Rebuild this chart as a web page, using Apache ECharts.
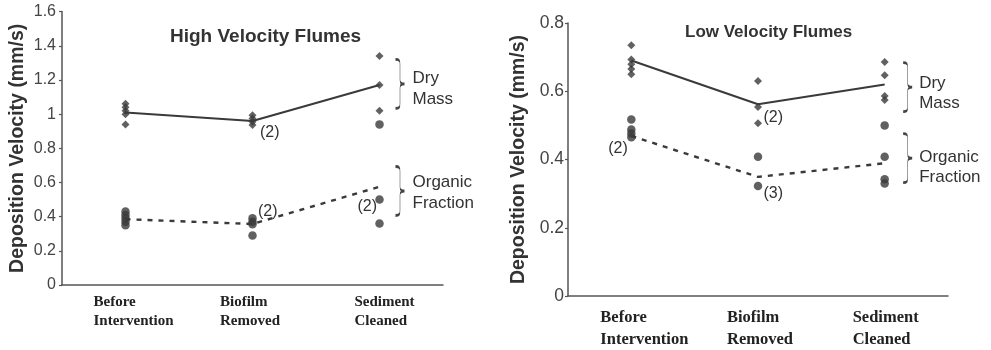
<!DOCTYPE html>
<html><head><meta charset="utf-8">
<script src="https://cdn.jsdelivr.net/npm/echarts@6/dist/echarts.min.js"></script>
<style>html,body{margin:0;padding:0;background:#fff}#c{width:991px;height:350px}</style>
</head><body><div id="c"></div>
<script>
// ---- data ----
const categories = ['Before Intervention', 'Biofilm Removed', 'Sediment Cleaned'];
const highTitle = 'High Velocity Flumes';
const lowTitle = 'Low Velocity Flumes';
const yName = 'Deposition Velocity (mm/s)';
const highYMax = 1.6, highYStep = 0.2;
const lowYMax = 0.8, lowYStep = 0.2;

// individual flume values, per category
const highDryMass = [[1.06, 1.04, 1.02, 1.00, 0.94], [0.994, 0.975, 0.955, 0.936], [1.34, 1.17, 1.02]];
const highOrganic = [[0.43, 0.41, 0.39, 0.37, 0.35], [0.39, 0.37, 0.355, 0.29], [0.94, 0.50, 0.36]];
const highDryMean = [1.01, 0.96, 1.17];
const highOrganicMean = [0.385, 0.357, 0.575];

const lowDryMass = [[0.735, 0.693, 0.679, 0.665, 0.650], [0.63, 0.554, 0.506], [0.686, 0.647, 0.586, 0.574]];
const lowOrganic = [[0.517, 0.488, 0.476, 0.465], [0.408, 0.322], [0.50, 0.408, 0.342, 0.33]];
const lowDryMean = [0.69, 0.562, 0.62];
const lowOrganicMean = [0.469, 0.349, 0.389];

// replicate-count notes: [category index, value anchor, text]
const highNotes = [[1, 0.936, '(2)'], [1, 0.39, '(2)'], [2, 0.50, '(2)']];
const lowNotes = [[0, 0.465, '(2)'], [1, 0.554, '(2)'], [1, 0.322, '(3)']];
// group brackets: [category index, centre value, text]
const highGroups = [[2, 1.177, 'Dry\nMass'], [2, 0.55, 'Organic\nFraction']];
const lowGroups = [[2, 0.612, 'Dry\nMass'], [2, 0.404, 'Organic\nFraction']];

// ---- chart ----
const INK = '#3a3a3a';
const SANS = 'Liberation Sans';
const SERIF = 'Liberation Serif';
const bracePath = 'path://M0,0 C6,0 6,4 6,10 L6,42 C6,48 8,50 12,50 C8,50 6,52 6,58 L6,90 C6,96 6,100 0,100';

function pts(groups) {
  const out = [];
  groups.forEach((g, i) => g.forEach(v => out.push([i, v])));
  return out;
}

function noteItems(notes, layout) {
  return notes.map((n, i) => ({
    coord: [n[0], n[1]],
    symbol: 'circle', symbolSize: 1,
    itemStyle: { color: 'rgba(0,0,0,0)' },
    label: {
      show: true, formatter: n[2], position: layout[i].pos, distance: 0, offset: layout[i].off,
      fontFamily: SANS, fontSize: 16, color: '#333'
    }
  }));
}

function groupItems(groups, braceOff, textOff, textDy, lineH) {
  const items = [];
  groups.forEach((g, i) => {
    items.push({
      coord: [g[0], g[1]],
      symbol: bracePath, symbolSize: [9, 49], symbolOffset: [braceOff, 0],
      itemStyle: { color: 'rgba(0,0,0,0)', borderColor: '#444', borderWidth: 1.2 },
      label: { show: false }
    });
    items.push({
      coord: [g[0], g[1]],
      symbol: 'circle', symbolSize: 1,
      itemStyle: { color: 'rgba(0,0,0,0)' },
      label: {
        show: true, formatter: g[2], position: 'right', distance: 0, offset: [textOff, textDy[i]],
        align: 'left', fontFamily: SANS, fontSize: 17, lineHeight: lineH, color: '#333'
      }
    });
  });
  return items;
}

function catAxis(gridIndex, fontSize, lineH, margin, widths) {
  const st = w => ({ width: w, align: 'left', fontFamily: SERIF, fontWeight: 'bold', fontSize, lineHeight: lineH, color: '#222' });
  return {
    gridIndex, type: 'category', data: categories, boundaryGap: true,
    axisLine: { show: true, lineStyle: { color: '#555', width: 1.5 } },
    axisTick: { show: false },
    axisLabel: {
      margin, align: 'center', interval: 0,
      formatter: (v, idx) => v.split(' ').map(w => '{c' + idx + '|' + w + '}').join('\n'),
      rich: { c0: st(widths[0]), c1: st(widths[1]), c2: st(widths[2]) }
    },
    splitLine: { show: false }
  };
}

function valAxis(gridIndex, max, step, fontSize, nameGap, margin) {
  return {
    gridIndex, type: 'value', min: 0, max, interval: step,
    name: yName, nameLocation: 'middle', nameGap,
    nameTextStyle: { fontFamily: SANS, fontWeight: 'bold', fontSize: 19.5, color: '#333' },
    axisLine: { show: true, lineStyle: { color: '#555', width: 1.5 } },
    axisTick: { show: true, length: 3, lineStyle: { color: '#555', width: 1.2 } },
    axisLabel: { fontFamily: SANS, fontSize, color: '#444', margin },
    splitLine: { show: false }
  };
}

function seriesFor(idx, dry, org, dryMean, orgMean, marks) {
  return [
    {
      type: 'line', xAxisIndex: idx, yAxisIndex: idx, data: dryMean, symbol: 'none',
      lineStyle: { color: INK, width: 2 }, z: 2, silent: true,
      markPoint: { data: marks, silent: true, animation: false }
    },
    {
      type: 'line', xAxisIndex: idx, yAxisIndex: idx, data: orgMean, symbol: 'none',
      lineStyle: { color: INK, width: 2.4, type: [5, 6] }, z: 2, silent: true
    },
    {
      type: 'scatter', xAxisIndex: idx, yAxisIndex: idx, data: pts(dry), symbol: 'diamond',
      symbolSize: 8, itemStyle: { color: INK }, z: 3
    },
    {
      type: 'scatter', xAxisIndex: idx, yAxisIndex: idx, data: pts(org), symbol: 'circle',
      symbolSize: 8.5, itemStyle: { color: INK }, z: 3
    }
  ];
}

const highNoteLayout = [
  { pos: 'right', off: [7, 8] },
  { pos: 'right', off: [5, -7] },
  { pos: 'left', off: [-2, 7] }
];
const lowNoteLayout = [
  { pos: 'left', off: [-3, 11] },
  { pos: 'right', off: [5, 11] },
  { pos: 'right', off: [5, 7] }
];

const highMarks = noteItems(highNotes, highNoteLayout)
  .concat(groupItems(highGroups, 20.5, 32.5, [5, 2], 21));
const lowMarks = noteItems(lowNotes, lowNoteLayout)
  .concat(groupItems(lowGroups, 23, 34, [6, 9], 20));

const chart = echarts.init(document.getElementById('c'), null, { renderer: 'canvas' });
chart.setOption({
  animation: false,
  backgroundColor: '#fff',
  title: [
    { text: highTitle, left: 165, top: 22, textStyle: { fontFamily: SANS, fontWeight: 'bold', fontSize: 19, color: '#333' } },
    { text: lowTitle, left: 680, top: 19, textStyle: { fontFamily: SANS, fontWeight: 'bold', fontSize: 17, color: '#333' } }
  ],
  grid: [
    { left: 62, top: 11.6, width: 381, height: 273.4, containLabel: false },
    { left: 568, top: 23, width: 380, height: 273, containLabel: false }
  ],
  xAxis: [
    catAxis(0, 15, 19, 8, [64, 65, 50]),
    catAxis(1, 16.5, 22, 11, [62, 62, 64])
  ],
  yAxis: [
    valAxis(0, highYMax, highYStep, 16, 34, 6),
    valAxis(1, lowYMax, lowYStep, 17.5, 39, 4)
  ],
  series: seriesFor(0, highDryMass, highOrganic, highDryMean, highOrganicMean, highMarks)
    .concat(seriesFor(1, lowDryMass, lowOrganic, lowDryMean, lowOrganicMean, lowMarks))
});
</script>
</body></html>
